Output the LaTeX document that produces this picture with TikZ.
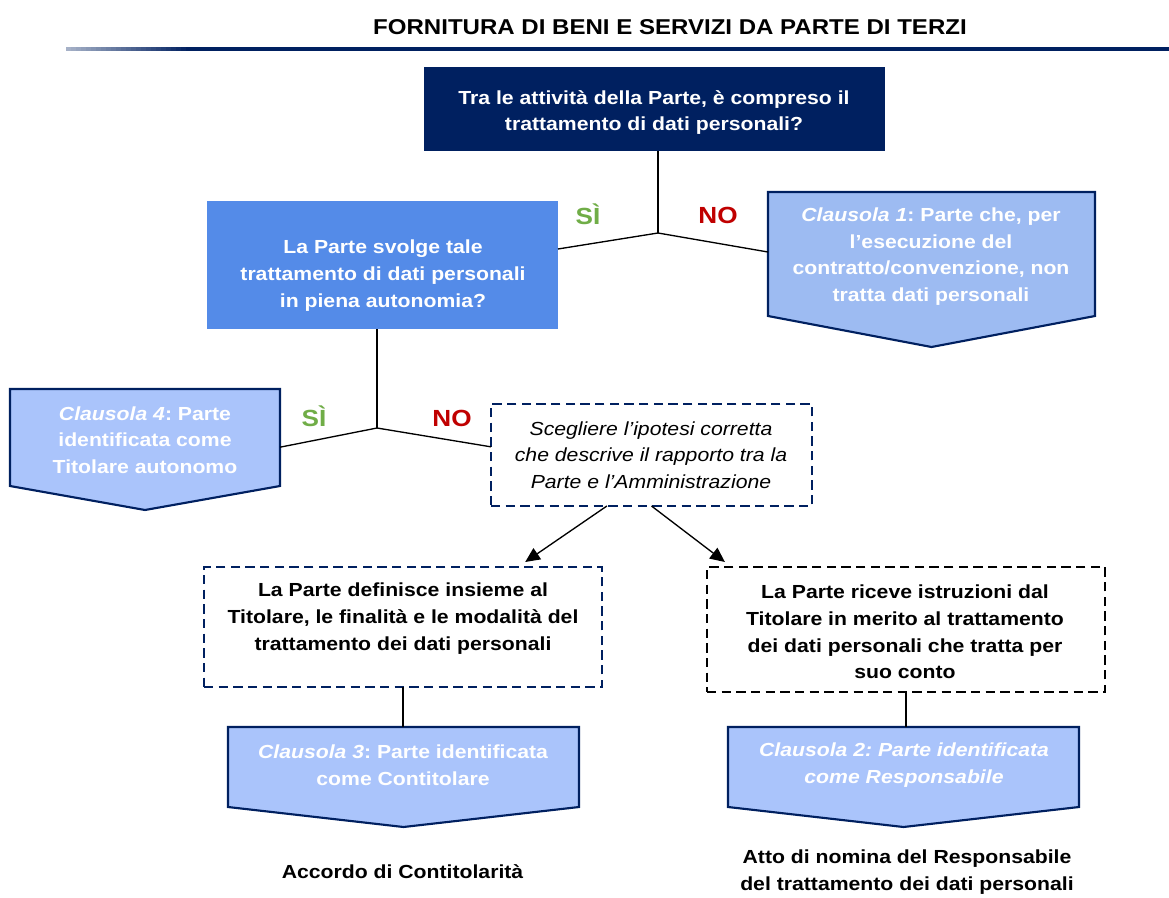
\documentclass[tikz,border=0pt]{standalone}
\usepackage{fontspec}
\setmainfont{Liberation Sans}[FakeStretch=1.12]
\usetikzlibrary{calc,arrows.meta}
\newlength\pxu \setlength\pxu{0.75pt}
\definecolor{navy}{RGB}{0,32,96}
\definecolor{midblue}{RGB}{84,139,232}
\definecolor{clblue}{RGB}{157,187,242}
\definecolor{lightblue}{RGB}{170,196,251}
\definecolor{sigreen}{RGB}{112,173,71}
\definecolor{nored}{RGB}{192,0,0}
\newcommand\arrowbox[3]{%
  \filldraw[fill=#3, draw=navy, line width=1.6pt, line join=miter]
    (#1.north west) -- (#1.north east) -- (#1.south east) --
    ($(#1.south)+(0,#2)$) -- (#1.south west) -- cycle;}
\frenchspacing
\begin{document}
\begin{tikzpicture}[x=0.75pt,y=-0.75pt,
  every node/.style={inner sep=0pt, outer sep=0pt},
  btxt/.style={font=\fontsize{14.2}{20}\selectfont\bfseries, align=center},
  wtxt/.style={btxt, text=white},
  itxt/.style={font=\fontsize{14.2}{20}\selectfont\itshape, align=center},
  yes/.style={font=\fontsize{17.5}{20}\selectfont\bfseries, text=sigreen},
  no/.style={font=\fontsize{17.5}{20}\selectfont\bfseries, text=nored},
  conn/.style={line width=1pt, black},
  arr/.style={conn, -{Triangle[length=11pt,width=10pt]}},
  dbox/.style={draw=navy, line width=1.8pt, dash pattern=on 7pt off 4pt, fill=white},
]
\fill[white] (0,0) rectangle (1169,898);
\useasboundingbox (0,0) rectangle (1169,898);

% title
\node[font=\fontsize{16.1}{20}\selectfont\bfseries] (title) at (670,27) {FORNITURA DI BENI E SERVIZI DA PARTE DI TERZI};
\fill[navy] (190,47) rectangle (1169,51.5);
\foreach \i in {0,...,24} {%
  \pgfmathsetmacro\p{35+65*\i/24}
  \fill[navy!\p] (66+5*\i,47) rectangle (71.6+5*\i,51.5);
}

% boxes
\node[fill=navy, minimum width=461\pxu, minimum height=84\pxu] (q1) at (654.5,109) {};
\node[wtxt] (q1t) at (654,112.5) {Tra le attività della Parte, è compreso il\\trattamento di dati personali?};

\node[fill=midblue, minimum width=351\pxu, minimum height=128\pxu] (q2) at (382.5,265) {};
\node[wtxt] (q2t) at (383,275.5) {La Parte svolge tale\\trattamento di dati personali\\in piena autonomia?};

\node[minimum width=327\pxu, minimum height=124\pxu] (c1) at (931.5,254) {};
\arrowbox{c1}{31}{clblue}
\node[wtxt] (c1t) at (931,256.5) {\textit{Clausola 1}: Parte che, per\\l’esecuzione del\\contratto/convenzione, non\\tratta dati personali};

\node[minimum width=270\pxu, minimum height=97\pxu] (c4) at (145,437.5) {};
\arrowbox{c4}{24}{lightblue}
\node[wtxt] (c4t) at (145,440) {\textit{Clausola 4}: Parte\\identificata come\\Titolare autonomo};

\node[dbox, minimum width=321\pxu, minimum height=102\pxu] (sc) at (651.5,455) {};
\node[itxt] (sct) at (651,455) {Scegliere l’ipotesi corretta\\che descrive il rapporto tra la\\Parte e l’Amministrazione};

\node[dbox, minimum width=398\pxu, minimum height=120\pxu] (d1) at (403,627) {};
\node[btxt] (d1t) at (403,618.5) {La Parte definisce insieme al\\Titolare, le finalità e le modalità del\\trattamento dei dati personali};

\node[dbox, draw=black, minimum width=398\pxu, minimum height=125\pxu] (d2) at (906,629.5) {};
\node[btxt] (d2t) at (905,632) {La Parte riceve istruzioni dal\\Titolare in merito al trattamento\\dei dati personali che tratta per\\suo conto};

\node[minimum width=351\pxu, minimum height=80\pxu] (c3) at (403.5,767) {};
\arrowbox{c3}{20}{lightblue}
\node[wtxt] (c3t) at (403,765) {\textit{Clausola 3}: Parte identificata\\come Contitolare};

\node[minimum width=351\pxu, minimum height=80\pxu] (c2) at (903.5,767) {};
\arrowbox{c2}{20}{lightblue}
\node[wtxt, font=\fontsize{14.2}{20}\selectfont\bfseries\itshape] (c2t) at (904,765) {Clausola 2: Parte identificata\\come Responsabile};

\node[btxt] (acc) at (402.5,872) {Accordo di Contitolarità};
\node[btxt] (atto) at (907,872) {Atto di nomina del Responsabile\\del trattamento dei dati personali};

% labels
\node[yes] (si1) at (588,214) {SÌ};
\node[no] (no1) at (718,215) {NO};
\node[yes] (si2) at (314,416) {SÌ};
\node[no] (no2) at (452,418) {NO};

% connectors
\coordinate (j1) at (658,233);
\coordinate (j2) at (377,428);
\draw[conn] (q1.south -| j1) -- (j1);
\draw[conn] (j1) -- ($(q2.north east)!0.375!(q2.south east)$);
\draw[conn] (j1) -- ($(c1.north west)!0.484!(c1.south west)$);
\draw[conn] (q2.south -| j2) -- (j2);
\draw[conn] (j2) -- ($(c4.north east)!0.6!(c4.south east)$);
\draw[conn] (j2) -- ($(sc.north west)!0.42!(sc.south west)$);
\draw[arr] ($(sc.south west)!0.361!(sc.south east)$) -- ($(d1.north west)!0.807!(d1.north east)+(0,-5)$);
\draw[arr] (sc.south) -- ($(d2.north west)!0.045!(d2.north east)+(0,-5)$);
\draw[conn] (d1.south) -- (d1.south |- c3.north);
\draw[conn] (d2.south) -- (d2.south |- c2.north);
\end{tikzpicture}
\end{document}
